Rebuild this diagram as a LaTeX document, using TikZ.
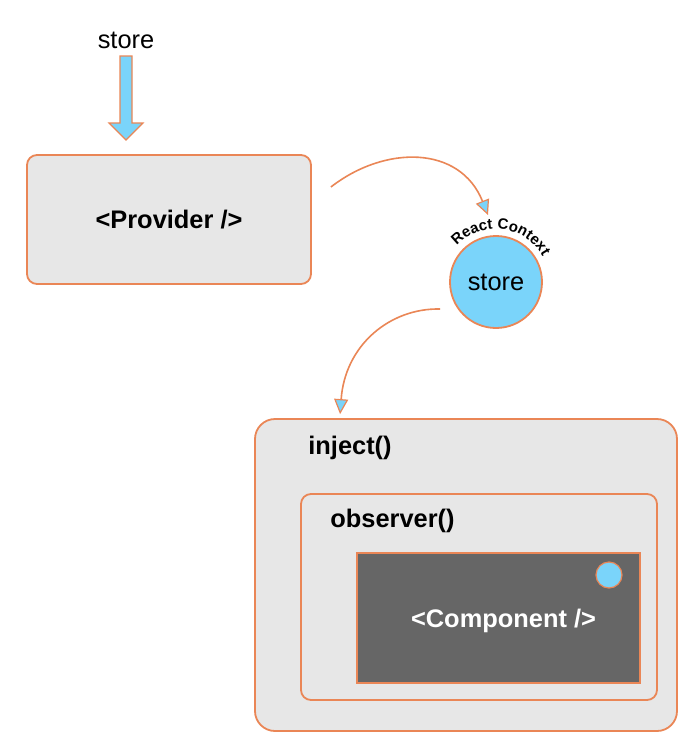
\documentclass[tikz,border=0pt]{standalone}
\usepackage{fontspec}
\setmainfont{Liberation Sans}
\usetikzlibrary{arrows.meta,decorations.text}
\definecolor{edgeorange}{RGB}{234,134,86}
\definecolor{boxgray}{RGB}{231,231,231}
\definecolor{storeblue}{RGB}{122,212,250}
\definecolor{compgray}{RGB}{102,102,102}

\begin{document}
\begin{tikzpicture}[x=0.5pt,y=-0.5pt,
	box/.style={draw=edgeorange,line width=0.9pt,fill=boxgray,inner sep=0pt},
	lbl/.style={font=\fontsize{12.7}{15}\selectfont\bfseries,inner sep=0pt},
	flow/.style={draw=edgeorange,line width=0.8pt,-{Triangle[length=7.5pt,width=7pt,fill=storeblue,line width=0.6pt]}}]
	\useasboundingbox (0,0) rectangle (686,745);
	\fill[white] (0,0) rectangle (686,745);

	\node[font=\fontsize{12.7}{15}\selectfont,inner sep=0pt] (storein) at (126,40) {store};
	\draw[draw=edgeorange,fill=storeblue,line width=0.6pt] (120,56) -- (132,56) -- (132,123) -- (143,123) -- (126,140) -- (109,123) -- (120,123) -- cycle;

	\node[box,lbl,rounded corners=5pt,minimum width=142pt,minimum height=64.5pt] (prov) at (169,219.5) {<Provider />};

	\node[circle,draw=edgeorange,fill=storeblue,line width=0.9pt,minimum size=46pt,inner sep=0pt,font=\fontsize{12.7}{15}\selectfont] (ctx) at (496,282) {store};
	\path[decorate,decoration={text along path,text align=center,text={|\fontsize{7.5}{9}\selectfont\bfseries|React Context}}]
		([shift={(155:26.5pt)}]ctx.center) arc[start angle=155,end angle=11,radius=26.5pt];

	\node[box,rounded corners=10pt,minimum width=211pt,minimum height=156pt] (inj) at (466,575) {};
	\node[lbl,anchor=west] (injlbl) at (308,448) {inject()};
	\node[box,rounded corners=5pt,minimum width=178pt,minimum height=103pt] (obs) at (479,597) {};
	\node[lbl,anchor=west] (obslbl) at (330,521) {observer()};
	\node[box,lbl,fill=compgray,text=white,minimum width=141.5pt,minimum height=65pt,text depth=0pt,xshift=0pt] (comp) at (498.5,618) {\hspace*{5pt}<Component />};
	\node[circle,draw=edgeorange,fill=storeblue,line width=0.6pt,minimum size=13pt,inner sep=0pt] (dot) at (609,575) {};

	\coordinate (provout) at ([shift={(19,-32.5)}]prov.east);
	\coordinate (ctxin) at ([shift={(-8,-67)}]ctx.center);
	\draw[flow] (provout) .. controls (385,145) and (460,145) .. (ctxin);
	\coordinate (ctxout) at ([shift={(-56,27)}]ctx.center);
	\coordinate (injin) at ([shift={(86,-4)}]inj.north west);
	\draw[flow] (ctxout) .. controls (390,308) and (345,345) .. (injin);
\end{tikzpicture}
\end{document}
